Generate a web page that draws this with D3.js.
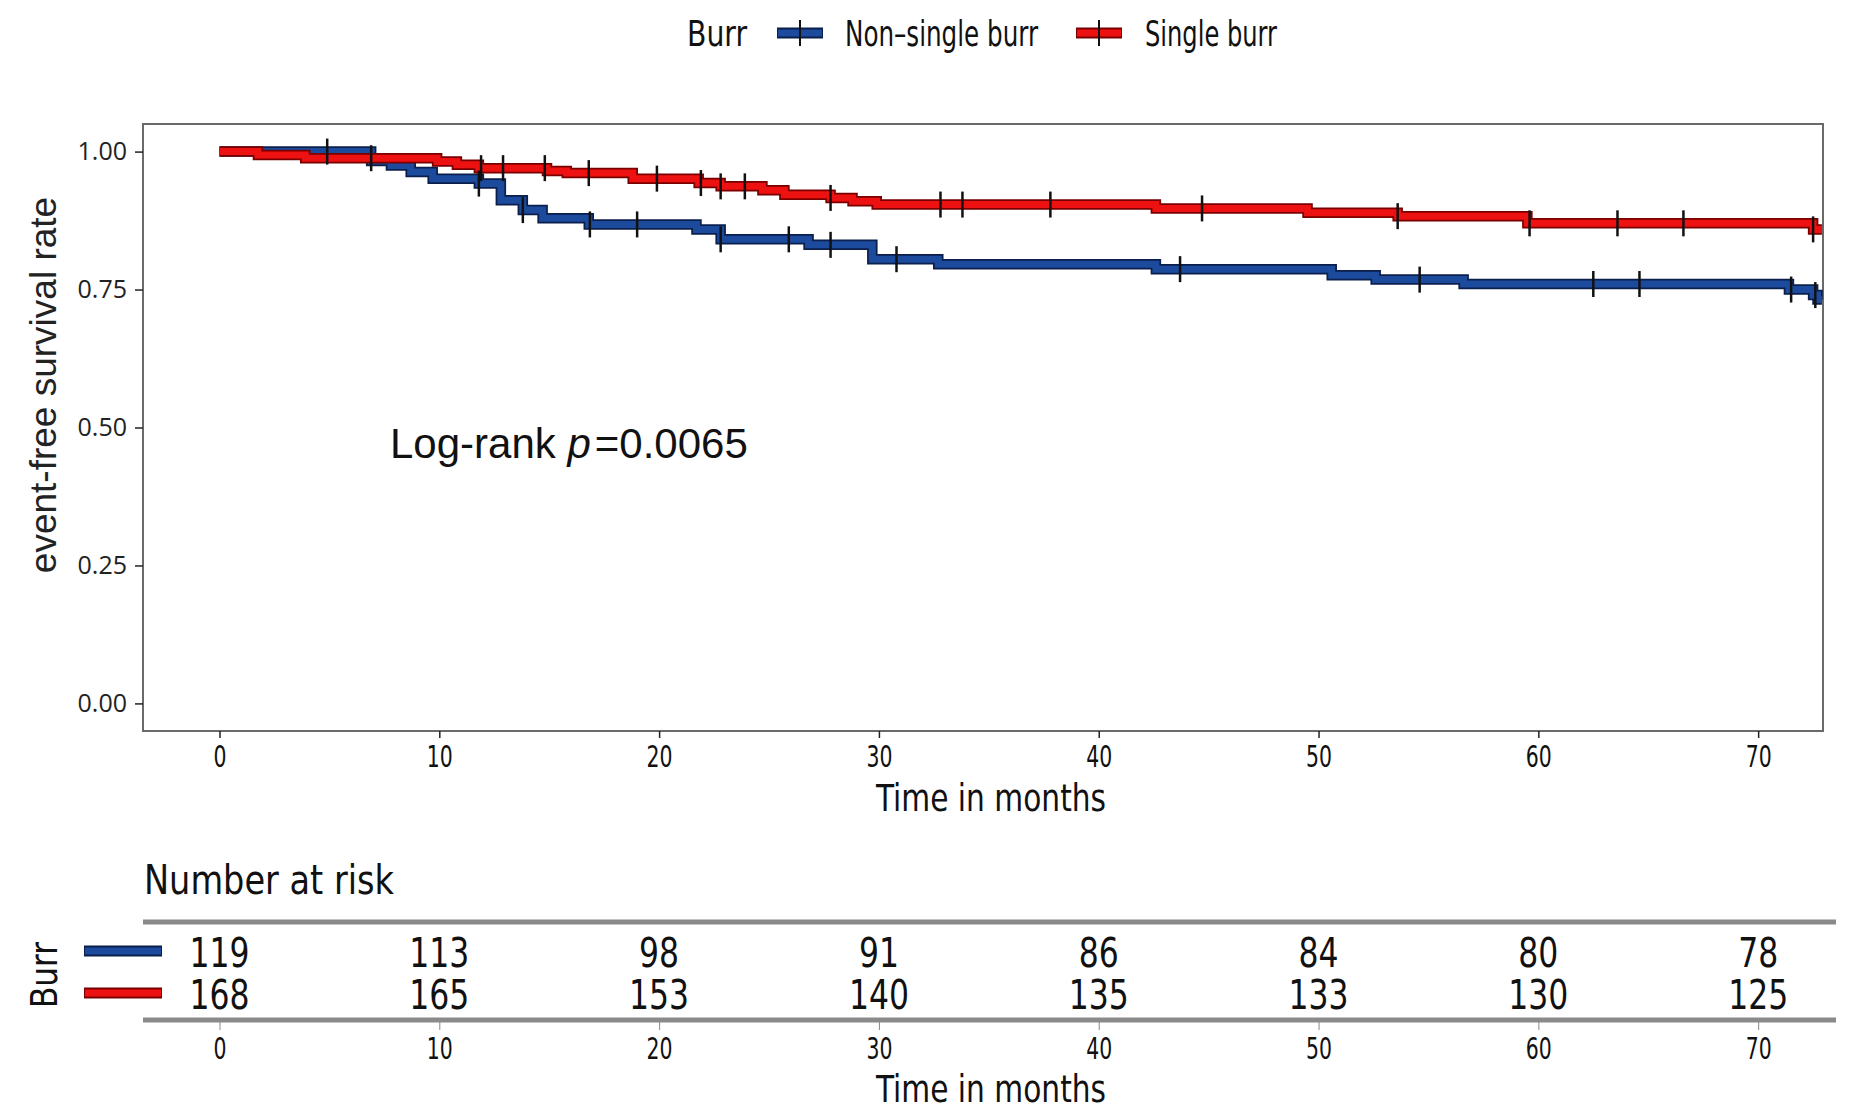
<!DOCTYPE html>
<html>
<head>
<meta charset="utf-8">
<script src="https://cdn.jsdelivr.net/npm/d3@7"></script>
<style>
  body { margin: 0; background: #fff; }
  .narrow { font-family: 'Liberation Sans Narrow', 'DejaVu Sans Condensed', 'Arial Narrow', sans-serif; font-stretch: condensed; }
</style>
</head>
<body>
<svg width="1870" height="1116"></svg>
<script>
const width = 1870;
const height = 1116;

// groups and number-at-risk table
const groups = ["Non\u2013single burr", "Single burr"];
const groupColors = ["#1c4a9c", "#ee1111"];
const groupEdges = ["#0b1f4d", "#7a0000"];
const months = [0, 10, 20, 30, 40, 50, 60, 70];
const riskNonSingle = [119, 113, 98, 91, 86, 84, 80, 78];
const riskSingle = [168, 165, 153, 140, 135, 133, 130, 125];
const yTicks = [0, 0.25, 0.5, 0.75, 1];

// KM step points (time in months, survival)
const nonSingleTime = [0, 6.9, 7.8, 8.7, 9.7, 11.8, 12.8, 13.8, 14.7, 16.8, 21.7, 22.8, 26.8, 29.7, 32.7, 42.6, 50.6, 52.6, 56.6, 71.4, 72.5, 72.7, 72.9];
const nonSingleSurv = [1, 0.983, 0.975, 0.963, 0.951, 0.942, 0.912, 0.894, 0.879, 0.868, 0.859, 0.841, 0.831, 0.805, 0.796, 0.787, 0.776, 0.768, 0.760, 0.750, 0.740, 0.732, 0.732];
const nonSingleCensor = [4.9, 11.8, 13.8, 16.85, 19.0, 22.8, 25.9, 27.8, 30.8, 43.7, 54.6, 62.5, 64.6, 71.5, 72.6];

const singleTime = [0, 1.75, 3.9, 9.9, 10.8, 11.8, 14.9, 15.8, 18.8, 21.8, 22.8, 24.7, 25.7, 27.8, 28.8, 29.9, 42.6, 49.5, 53.6, 59.5, 72.5, 72.9];
const singleSurv = [1, 0.994, 0.988, 0.982, 0.976, 0.970, 0.965, 0.961, 0.951, 0.943, 0.937, 0.930, 0.922, 0.916, 0.910, 0.904, 0.897, 0.889, 0.883, 0.870, 0.859, 0.859];
const singleCensor = [6.9, 11.9, 12.9, 14.8, 16.8, 19.9, 21.9, 22.8, 23.9, 27.8, 32.8, 33.8, 37.8, 44.7, 53.6, 59.6, 63.6, 66.6, 72.5];

const pLabel = "=0.0065";

const svg = d3.select('svg');

// the picture's font is very condensed, squeeze glyphs to a width per character
function squeeze(sel, perChar) {
    sel.each(function() {
        const t = d3.select(this);
        t.attr('textLength', t.text().length * perChar).attr('lengthAdjust', 'spacingAndGlyphs');
    });
}

// main panel
const panel = {left: 143, right: 1823, top: 124, bottom: 731};
const x = d3.scaleLinear().domain([-3.48, 72.95]).range([panel.left, panel.right]);
const y = d3.scaleLinear().domain([-0.05, 1.05]).range([panel.bottom, panel.top]);

svg.append('rect')
    .attr('x', panel.left).attr('y', panel.top)
    .attr('width', panel.right - panel.left)
    .attr('height', panel.bottom - panel.top)
    .attr('fill', 'none')
    .attr('stroke', '#6a6a6a')
    .attr('stroke-width', 2);

const yAxis_g = svg.append('g')
    .attr('transform', 'translate(' + panel.left + ',0)')
    .call(d3.axisLeft(y).tickValues(yTicks).tickFormat(d3.format('.2f')).tickSize(8).tickPadding(8));
yAxis_g.select('.domain').remove();
yAxis_g.selectAll('line').attr('stroke', '#222').attr('stroke-width', 1.5);
yAxis_g.selectAll('text')
    .style('font-family', "'Open Sans', Lato, sans-serif")
    .style('font-size', '25px')
    .attr('fill', '#222');

const xAxis_g = svg.append('g')
    .attr('transform', 'translate(0,' + panel.bottom + ')')
    .call(d3.axisBottom(x).tickValues(months).tickSize(7).tickPadding(8));
xAxis_g.select('.domain').remove();
xAxis_g.selectAll('line').attr('stroke', '#222').attr('stroke-width', 1.5);
xAxis_g.selectAll('text')
    .attr('class', 'narrow')
    .style('font-size', '30px')
    .attr('fill', '#111')
    .call(squeeze, 13);

svg.append('text')
    .attr('transform', 'translate(56,385) rotate(-90)')
    .attr('text-anchor', 'middle')
    .style('font-family', "'Liberation Sans', Arial, sans-serif")
    .style('font-size', '37px')
    .attr('fill', '#222')
    .text('event-free survival rate');

svg.append('text')
    .attr('class', 'narrow')
    .attr('x', 991).attr('y', 811)
    .attr('text-anchor', 'middle')
    .attr('textLength', 230).attr('lengthAdjust', 'spacingAndGlyphs')
    .style('font-size', '37px')
    .attr('fill', '#111')
    .text('Time in months');

// curves
const line = d3.line()
    .x(d => x(d[0]))
    .y(d => y(d[1]))
    .curve(d3.curveStepAfter);

function survAt(times, surv, t) {
    let s = surv[0];
    for (let i = 0; i < times.length; i++) {
        if (times[i] <= t) s = surv[i];
    }
    return s;
}

const series = [
    {time: nonSingleTime, surv: nonSingleSurv, censor: nonSingleCensor},
    {time: singleTime, surv: singleSurv, censor: singleCensor}
];

const curve_g = svg.append('g');
series.forEach((s, i) => {
    const pts = s.time.map((t, j) => [t, s.surv[j]]);
    curve_g.append('path')
        .attr('d', line(pts))
        .attr('fill', 'none')
        .attr('stroke', groupEdges[i])
        .attr('stroke-width', 10.5);
    curve_g.append('path')
        .attr('d', line(pts))
        .attr('fill', 'none')
        .attr('stroke', groupColors[i])
        .attr('stroke-width', 7);
});
series.forEach((s, i) => {
    curve_g.selectAll('.c' + i)
        .data(s.censor)
        .enter()
        .append('line')
        .attr('x1', d => x(d)).attr('x2', d => x(d))
        .attr('y1', d => y(survAt(s.time, s.surv, d)) - 13)
        .attr('y2', d => y(survAt(s.time, s.surv, d)) + 13)
        .attr('stroke', '#111')
        .attr('stroke-width', 2.5);
});

const pText = svg.append('text')
    .attr('x', 390).attr('y', 458)
    .style('font-family', "'Liberation Sans', Arial, sans-serif")
    .style('font-size', '42px')
    .attr('fill', '#111');
pText.append('tspan').text('Log-rank ');
pText.append('tspan').style('font-style', 'italic').text('p');
pText.append('tspan').attr('dx', 4).text(pLabel);

// legend on top
function legendKey(g, cx, cy, w, i) {
    g.append('line')
        .attr('x1', cx - w / 2).attr('x2', cx + w / 2)
        .attr('y1', cy).attr('y2', cy)
        .attr('stroke', groupEdges[i]).attr('stroke-width', 11);
    g.append('line')
        .attr('x1', cx - w / 2 + 1).attr('x2', cx + w / 2 - 1)
        .attr('y1', cy).attr('y2', cy)
        .attr('stroke', groupColors[i]).attr('stroke-width', 7);
}

const legend_g = svg.append('g');
legend_g.append('text')
    .attr('class', 'narrow')
    .attr('x', 687).attr('y', 46)
    .attr('textLength', 60).attr('lengthAdjust', 'spacingAndGlyphs')
    .style('font-size', '36px').attr('fill', '#111')
    .text('Burr');
const legendKeyX = [800, 1099];
const legendLabelX = [845, 1145];
const legendLabelW = [193, 132];
groups.forEach((g, i) => {
    legendKey(legend_g, legendKeyX[i], 33, 46, i);
    legend_g.append('line')
        .attr('x1', legendKeyX[i]).attr('x2', legendKeyX[i])
        .attr('y1', 20).attr('y2', 46)
        .attr('stroke', '#111').attr('stroke-width', 2);
    legend_g.append('text')
        .attr('class', 'narrow')
        .attr('x', legendLabelX[i]).attr('y', 46)
        .attr('textLength', legendLabelW[i]).attr('lengthAdjust', 'spacingAndGlyphs')
        .style('font-size', '36px').attr('fill', '#111')
        .text(g);
});

// number at risk table
const table_g = svg.append('g').attr('transform', 'translate(0,-6)');
table_g.append('text')
    .attr('class', 'narrow')
    .attr('x', 144).attr('y', 900)
    .attr('textLength', 250).attr('lengthAdjust', 'spacingAndGlyphs')
    .style('font-size', '40px').attr('fill', '#111')
    .text('Number at risk');

[928, 1026].forEach(yy => {
    table_g.append('line')
        .attr('x1', 143).attr('x2', 1836)
        .attr('y1', yy).attr('y2', yy)
        .attr('stroke', '#8a8a8a').attr('stroke-width', 5);
});

const rowBase = [973, 1015];
[riskNonSingle, riskSingle].forEach((row, i) => {
    table_g.selectAll('.r' + i)
        .data(row)
        .enter()
        .append('text')
        .attr('class', 'narrow')
        .attr('x', (d, j) => x(months[j]))
        .attr('y', rowBase[i])
        .attr('text-anchor', 'middle')
        .style('font-size', '40px').attr('fill', '#111')
        .text(d => d)
        .call(squeeze, 20);
    legendKey(table_g, 123, rowBase[i] - 16, 78, i);
});

table_g.append('text')
    .attr('class', 'narrow')
    .attr('transform', 'translate(57,981) rotate(-90)')
    .attr('text-anchor', 'middle')
    .attr('textLength', 66).attr('lengthAdjust', 'spacingAndGlyphs')
    .style('font-size', '38px').attr('fill', '#111')
    .text('Burr');

const riskAxis_g = table_g.append('g')
    .attr('transform', 'translate(0,1028)')
    .call(d3.axisBottom(x).tickValues(months).tickSize(8).tickPadding(8));
riskAxis_g.select('.domain').remove();
riskAxis_g.selectAll('line').attr('stroke', '#888').attr('stroke-width', 1);
riskAxis_g.selectAll('text')
    .attr('class', 'narrow')
    .style('font-size', '30px')
    .attr('fill', '#111')
    .call(squeeze, 13);

table_g.append('text')
    .attr('class', 'narrow')
    .attr('x', 991).attr('y', 1108)
    .attr('text-anchor', 'middle')
    .attr('textLength', 230).attr('lengthAdjust', 'spacingAndGlyphs')
    .style('font-size', '37px')
    .attr('fill', '#111')
    .text('Time in months');
</script>
</body>
</html>
